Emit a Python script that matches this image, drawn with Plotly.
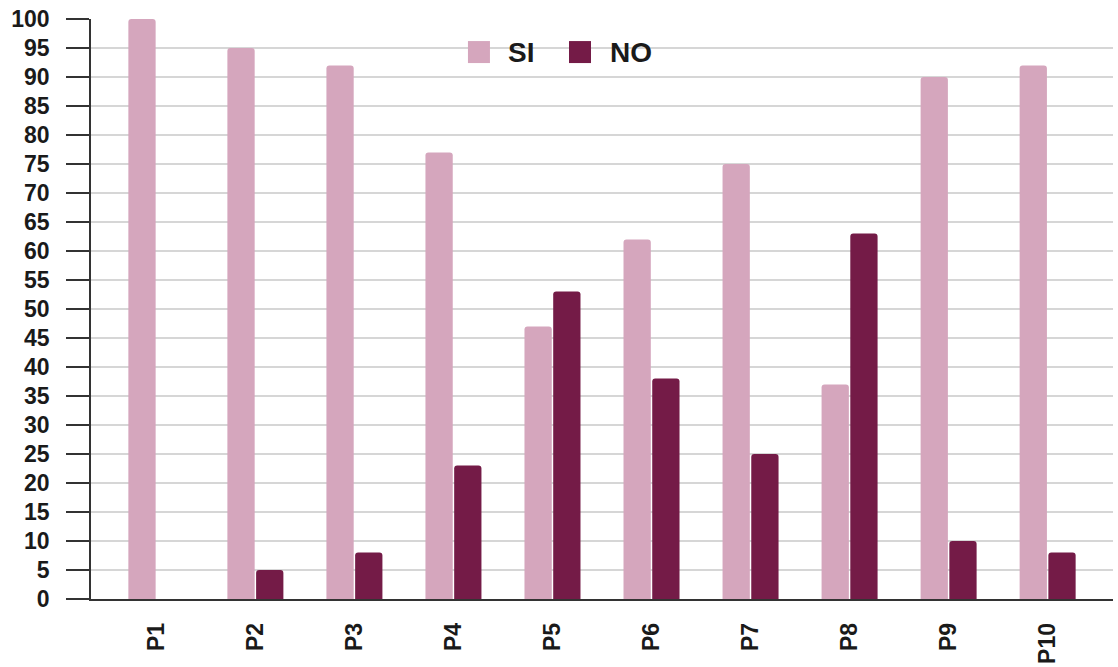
import plotly.graph_objects as go

# Survey answers per question (percent)
preguntas = ["P1", "P2", "P3", "P4", "P5", "P6", "P7", "P8", "P9", "P10"]
si_vals = [100, 95, 92, 77, 47, 62, 75, 37, 90, 92]
no_vals = [0, 5, 8, 23, 53, 38, 25, 63, 10, 8]
y_ticks = list(range(0, 101, 5))

COLOR_SI = "#d5a6bd"
COLOR_NO = "#741b47"
FONT = "Liberation Sans, Arial, sans-serif"
TEXT = "#1a1a1a"

series = [("SI", si_vals, COLOR_SI), ("NO", no_vals, COLOR_NO)]

fig = go.Figure()
for name, vals, color in series:
    fig.add_trace(go.Bar(name=name, x=preguntas, y=vals, marker_color=color,
                         marker_line_width=0, showlegend=False))

# Legend drawn as large swatches + labels near the top of the plot
legend_pos = [(0.3796, 0.4061), (0.4785, 0.5059)]  # (swatch centre, label left) in paper x
legend_y = 0.943
for (name, _, color), (sx, tx) in zip(series, legend_pos):
    fig.add_shape(type="rect", xref="paper", yref="paper",
                  xsizemode="pixel", ysizemode="pixel",
                  xanchor=sx, yanchor=legend_y,
                  x0=-11, x1=11, y0=-11, y1=11,
                  fillcolor=color, line_width=0, layer="above")
    fig.add_annotation(text=name, xref="paper", yref="paper", x=tx, y=legend_y,
                       xanchor="left", yanchor="middle", showarrow=False,
                       font=dict(family=FONT, size=28, weight="bold", color=TEXT))

fig.update_layout(
    width=1118, height=667,
    margin=dict(l=91, r=5, t=19, b=68),
    paper_bgcolor="white", plot_bgcolor="white",
    barmode="group", bargap=0.42, bargroupgap=0.05, barcornerradius=3,
    font=dict(family=FONT, size=23, color=TEXT),
)

fig.update_xaxes(
    type="category", range=[-0.66, 9.66], automargin=False,
    showline=True, linecolor="#333333", linewidth=1.5,
    showgrid=False, ticks="", tickangle=-90,
    tickfont=dict(family=FONT, size=23, weight="bold", color=TEXT),
    ticklabelstandoff=13,
)
fig.update_yaxes(
    range=[0, 100], tickvals=y_ticks, automargin=False,
    showline=True, linecolor="#333333", linewidth=1.5,
    showgrid=True, gridcolor="#d6d6d6", gridwidth=1.5,
    ticks="outside", ticklen=23, tickwidth=1.5, tickcolor="#333333",
    tickfont=dict(family=FONT, size=23, weight="bold", color=TEXT),
    ticklabelstandoff=12, zeroline=False,
)

fig.write_html("out.html")
